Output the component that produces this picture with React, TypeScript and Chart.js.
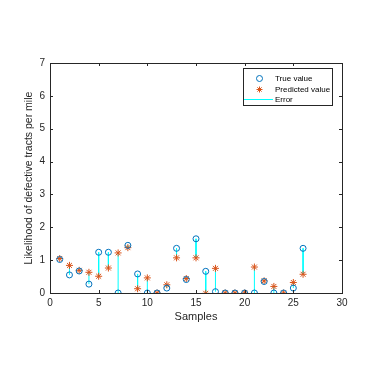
import React, { useEffect, useRef } from "react";
import { Chart, registerables } from "chart.js";
Chart.register(...registerables);

const samples = [1, 2, 3, 4, 5, 6, 7, 8, 9, 10, 11, 12, 13, 14, 15, 16, 17, 18, 19, 20, 21, 22, 23, 24, 25, 26];
const trueValues = [1.02, 0.55, 0.67, 0.27, 1.24, 1.24, 0, 1.45, 0.58, 0, 0, 0.15, 1.36, 0.41, 1.65, 0.66, 0.04, 0, 0, 0, 0, 0.35, 0, 0, 0.15, 1.36];
const predictedValues = [1.05, 0.84, 0.69, 0.63, 0.51, 0.76, 1.22, 1.38, 0.13, 0.46, 0, 0.25, 1.07, 0.44, 1.07, -0.01, 0.75, 0, 0, 0, 0.79, 0.37, 0.2, 0, 0.32, 0.57];
const xTicks = [0, 5, 10, 15, 20, 25, 30];
const yTicks = [0, 1, 2, 3, 4, 5, 6, 7];
const legendLabels = ["True value", "Predicted value", "Error"];

const BLUE = "#0072BD";
const ORANGE = "#D95319";
const CYAN = "#00FFFF";
const AXIS = "#262626";
const FONT = "'Liberation Sans', Arial, sans-serif";

function drawStar(ctx: CanvasRenderingContext2D, x: number, y: number, r: number) {
  ctx.beginPath();
  ctx.moveTo(x - r, y); ctx.lineTo(x + r, y);
  ctx.moveTo(x, y - r); ctx.lineTo(x, y + r);
  const d = r * 0.7071;
  ctx.moveTo(x - d, y - d); ctx.lineTo(x + d, y + d);
  ctx.moveTo(x - d, y + d); ctx.lineTo(x + d, y - d);
  ctx.stroke();
}

const boxPlugin = {
  id: "matlabBox",
  afterDraw(chart: any) {
    const { ctx, chartArea: a, scales } = chart;
    ctx.save();
    ctx.strokeStyle = AXIS;
    ctx.lineWidth = 1;
    ctx.strokeRect(Math.round(a.left) + 0.5, Math.round(a.top) + 0.5, Math.round(a.right - a.left), Math.round(a.bottom - a.top));
    const tl = 3;
    ctx.beginPath();
    for (const v of xTicks) {
      const px = Math.round(scales.x.getPixelForValue(v)) + 0.5;
      ctx.moveTo(px, a.bottom); ctx.lineTo(px, a.bottom - tl);
      ctx.moveTo(px, a.top); ctx.lineTo(px, a.top + tl);
    }
    for (const v of yTicks) {
      const py = Math.round(scales.y.getPixelForValue(v)) + 0.5;
      ctx.moveTo(a.left, py); ctx.lineTo(a.left + tl, py);
      ctx.moveTo(a.right, py); ctx.lineTo(a.right - tl, py);
    }
    ctx.stroke();

    // legend
    const lx = 243, ly = 68, lw = 89, lh = 37;
    ctx.fillStyle = "#ffffff";
    ctx.fillRect(lx, ly, lw, lh);
    ctx.strokeStyle = AXIS;
    ctx.strokeRect(lx + 0.5, ly + 0.5, lw, lh);
    const rows = [78.5, 89.5, 99.5];
    ctx.lineWidth = 1;
    ctx.strokeStyle = BLUE;
    ctx.beginPath(); ctx.arc(259.5, rows[0], 3, 0, Math.PI * 2); ctx.stroke();
    ctx.strokeStyle = ORANGE;
    drawStar(ctx, 259.5, rows[1], 3);
    ctx.strokeStyle = CYAN;
    ctx.beginPath(); ctx.moveTo(244, rows[2]); ctx.lineTo(273, rows[2]); ctx.stroke();
    ctx.fillStyle = "#000000";
    ctx.font = `8px ${FONT}`;
    ctx.textBaseline = "middle";
    ctx.textAlign = "left";
    legendLabels.forEach((t, i) => ctx.fillText(t, 275, rows[i]));
    ctx.restore();
  },
};

export default function App() {
  const ref = useRef<HTMLCanvasElement | null>(null);
  useEffect(() => {
    if (!ref.current) return;
    const errData: any[] = [];
    samples.forEach((s, i) => {
      errData.push({ x: s, y: trueValues[i] });
      errData.push({ x: s, y: predictedValues[i] });
      errData.push({ x: s, y: null });
    });
    const chart = new Chart(ref.current, {
      type: "line",
      data: {
        datasets: [
          {
            label: legendLabels[0],
            data: samples.map((s, i) => ({ x: s, y: trueValues[i] })),
            showLine: false,
            pointStyle: "circle",
            pointRadius: 3,
            pointBorderColor: BLUE,
            pointBackgroundColor: "rgba(0,0,0,0)",
            pointBorderWidth: 1,
            borderColor: BLUE,
          },
          {
            label: legendLabels[1],
            data: samples.map((s, i) => ({ x: s, y: predictedValues[i] })),
            showLine: false,
            pointStyle: "star",
            pointRadius: 3.5,
            pointBorderColor: ORANGE,
            pointBorderWidth: 1,
            borderColor: ORANGE,
          },
          {
            label: legendLabels[2],
            data: errData,
            borderColor: CYAN,
            borderWidth: 1,
            pointRadius: 0,
            spanGaps: false,
          },
        ],
      },
      options: {
        responsive: false,
        animation: false,
        layout: { padding: { left: 23, right: 34, top: 63, bottom: 43 } },
        plugins: { legend: { display: false }, tooltip: { enabled: false } },
        scales: {
          x: {
            type: "linear",
            min: 0,
            max: 30,
            afterFit: (s: any) => { s.height = 31; },
            afterBuildTicks: (s: any) => { s.ticks = xTicks.map((v) => ({ value: v })); },
            grid: { display: false, drawTicks: false },
            border: { display: false },
            ticks: { padding: 4, color: AXIS, font: { family: FONT, size: 10 }, maxRotation: 0 },
            title: { display: true, text: "Samples", color: AXIS, padding: 0, font: { family: FONT, size: 11 } },
          },
          y: {
            type: "linear",
            min: 0,
            max: 7,
            afterFit: (s: any) => { s.width = 27; },
            afterBuildTicks: (s: any) => { s.ticks = yTicks.map((v) => ({ value: v })); },
            grid: { display: false, drawTicks: false },
            border: { display: false },
            ticks: { padding: 5, color: AXIS, font: { family: FONT, size: 10 } },
            title: { display: true, text: "Likelihood of defective tracts per mile", color: AXIS, padding: 0, font: { family: FONT, size: 10.5 } },
          },
        },
      },
      plugins: [boxPlugin],
    });
    return () => chart.destroy();
  }, []);
  return (
    <div style={{ position: "absolute", left: 0, top: 0, width: 376, height: 367, background: "#fff" }}>
      <canvas ref={ref} width={376} height={367} style={{ display: "block" }} />
    </div>
  );
}
